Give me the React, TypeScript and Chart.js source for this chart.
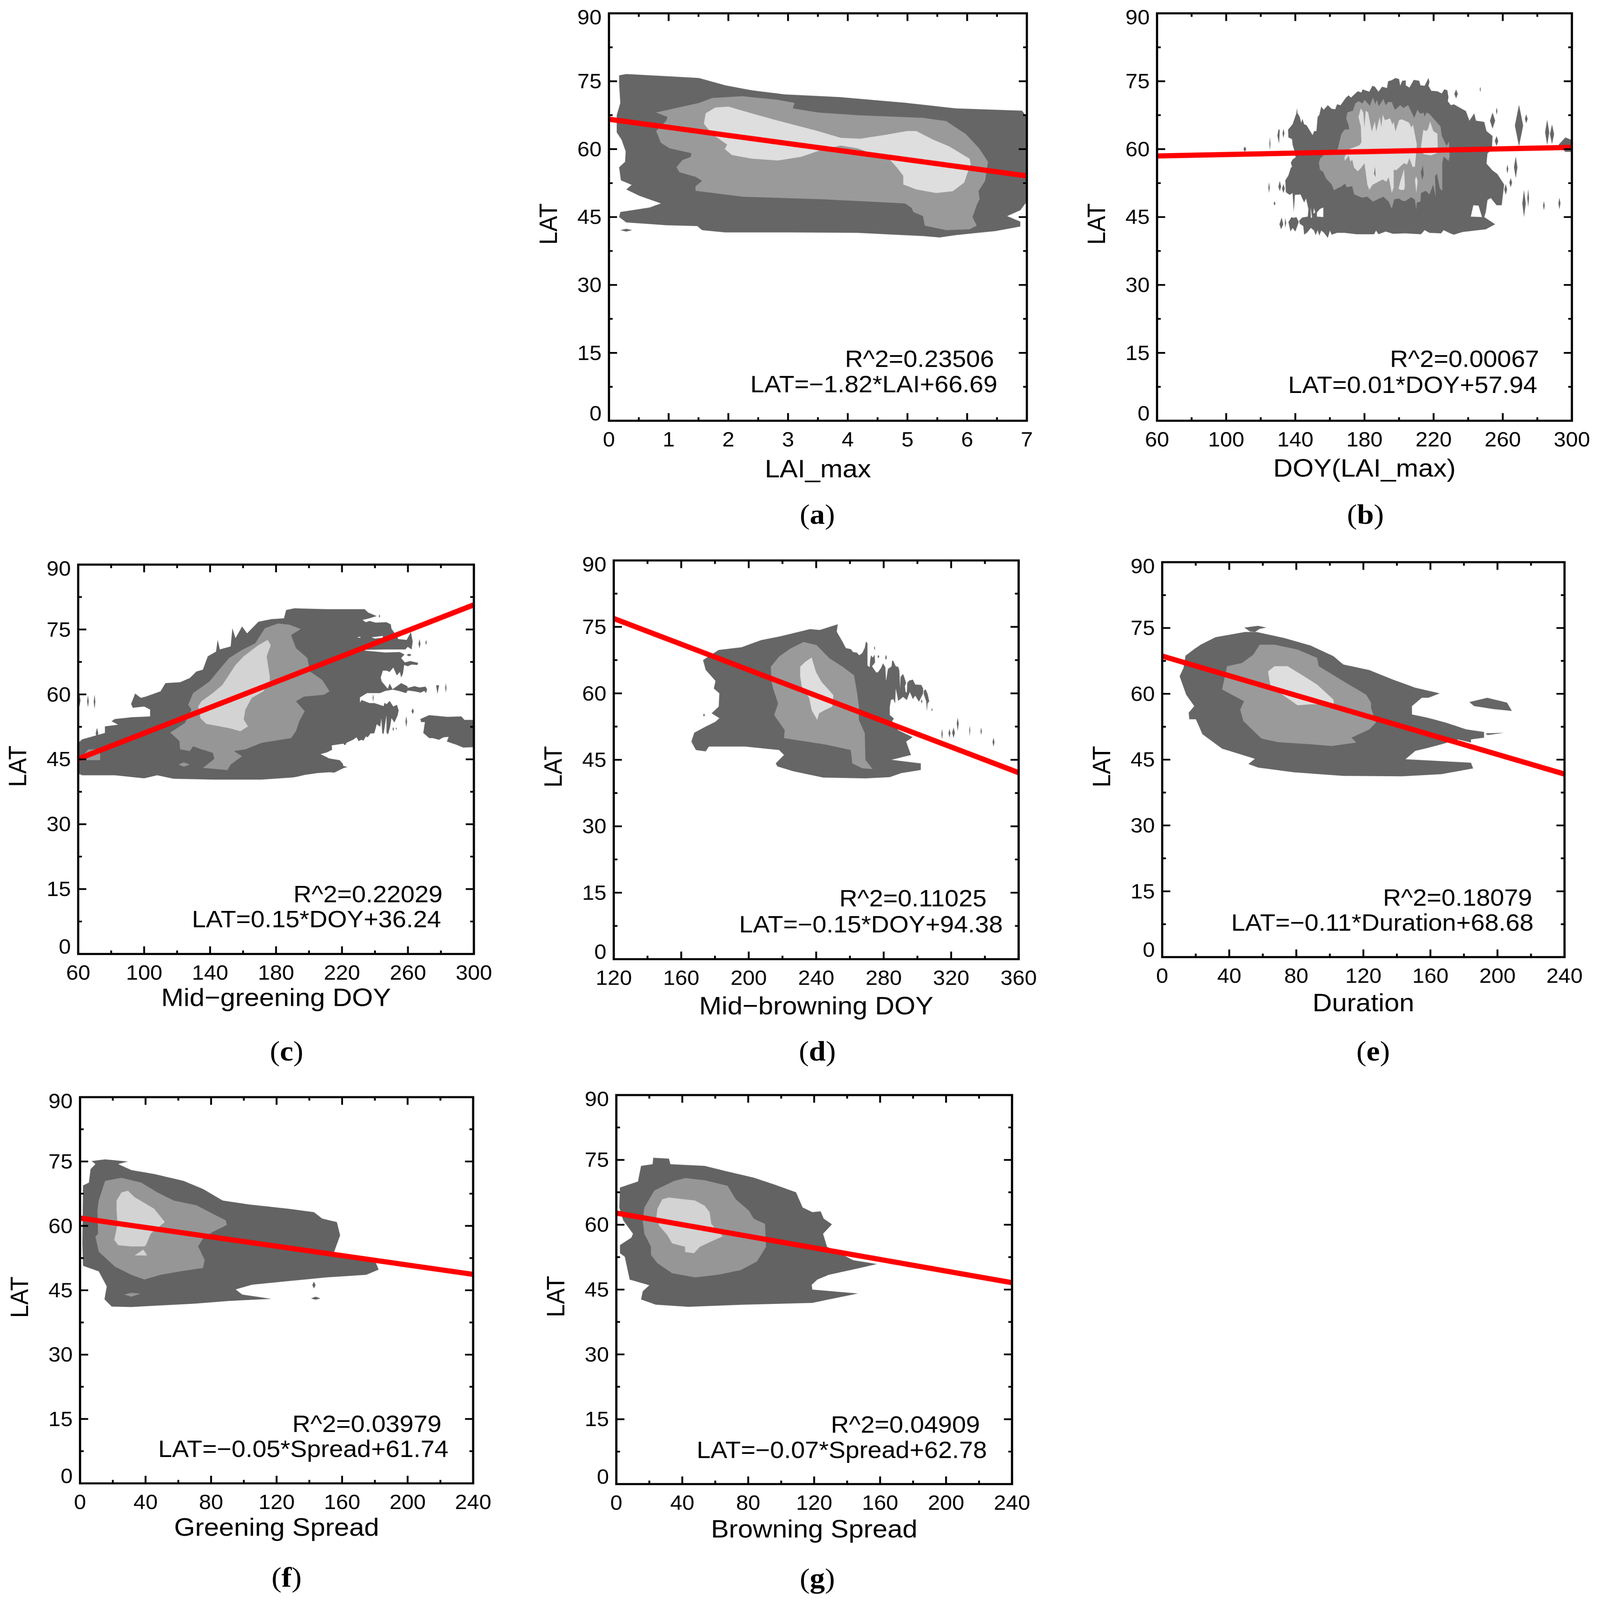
import React, { useEffect, useRef } from 'react';
import Chart from 'chart.js/auto';

type Pt = [number, number];

const latTicks = [0, 15, 30, 45, 60, 75, 90];
const laiTicks = [0, 1, 2, 3, 4, 5, 6, 7];
const greenDoyTicks = [60, 100, 140, 180, 220, 260, 300];
const brownDoyTicks = [120, 160, 200, 240, 280, 320, 360];
const dayTicks = [0, 40, 80, 120, 160, 200, 240];

// regression lines, read at the two frame edges
const aFit: Pt[] = [[0, 66.6], [7, 54.1]];
const bFit: Pt[] = [[60, 58.5], [300, 60.4]];
const cFit: Pt[] = [[60, 45.1], [300, 80.7]];
const dFit: Pt[] = [[120, 76.9], [360, 42.1]];
const eFit: Pt[] = [[0, 68.6], [240, 41.7]];
const fFit: Pt[] = [[0, 61.8], [240, 48.7]];
const gFit: Pt[] = [[0, 62.7], [240, 46.6]];

// contour outlines in data units (x, LAT)
const aDark: Pt[][] = [
    [[.17, 76.3], [.29, 76.6], [1.01, 76.1], [1.51, 75.7], [1.95, 74.1], [2.39, 73], [2.94, 72.1], [3.88, 71.5], [4.99, 70.2], [5.81, 69], [6.92, 68.5], [7, 67.1], [7, 48.4], [6.89, 46.5], [6.67, 45.2], [6.89, 44], [6.89, 42.9], [6.48, 41.9], [5.81, 41], [5.54, 40.5], [5.26, 40.8], [4.16, 41.5], [3.05, 41.6], [1.95, 41.6], [1.56, 42.1], [1.48, 43], [.96, 43.2], [.29, 43.8], [.17, 45], [.19, 46.1], [.68, 47.1], [.87, 48], [.51, 49.7], [.29, 51.1], [.38, 52.1], [.2, 53.1], [.17, 56], [.27, 57.2], [.28, 59.5], [.21, 62.1], [.13, 63.7], [.13, 67.5], [.19, 70.2], [.17, 74.4]],
    [[.19, 42.1], [.29, 42.4], [.39, 42.1], [.29, 41.8]],
];
const aMid: Pt[][] = [
    [[.79, 68.1], [.96, 68.6], [1.51, 70.2], [1.73, 71.3], [2.23, 71.7], [2.83, 70.9], [3.11, 70.2], [3.08, 69], [3.5, 68.1], [4.16, 67.5], [5.26, 66.9], [5.65, 66.2], [5.98, 63.3], [6.2, 60.2], [6.35, 57.2], [6.3, 53], [6.19, 50.7], [6.21, 49], [6.16, 47.6], [6.09, 45], [6.16, 43.1], [6.04, 42.3], [5.65, 42.1], [5.29, 43.1], [5.26, 45.2], [5.1, 46.1], [5.07, 47], [4.96, 48], [3.61, 48.9], [2.23, 49.5], [1.45, 50.8], [1.45, 51.8], [1.56, 53], [1.45, 53.9], [1.18, 54.9], [1.13, 56], [1.23, 57.6], [1.37, 58.3], [1.38, 59.1], [1.01, 60.2], [.87, 61.4], [.79, 64], [.96, 66.3], [.98, 67.1]],
];
const aLight: Pt[][] = [
    [[1.62, 67.9], [1.78, 69.2], [2, 69.4], [2.39, 67.9], [2.83, 66.3], [3.5, 64], [3.88, 62.5], [4.21, 62.3], [4.6, 63.1], [4.99, 64], [5.15, 64], [5.43, 62.1], [5.7, 60.6], [6.04, 57.9], [6.06, 56.8], [5.95, 52.6], [5.76, 50.7], [5.48, 50.3], [5.15, 51.1], [4.93, 52.2], [4.93, 54.1], [4.82, 56], [4.71, 57.6], [4.16, 60.2], [3.88, 60.8], [3.55, 59.8], [3.22, 58.3], [2.83, 57.5], [2.39, 57.9], [2.06, 58.7], [1.94, 60], [1.98, 61], [1.73, 63.3], [1.59, 65.6]],
];

const bDark: Pt[][] = [
    [[141, 69.1], [141.2, 68], [142.6, 67.1], [143.4, 65.8], [144.1, 66.7], [145.1, 65.5], [146.5, 65.3], [150, 63.1], [150.9, 64], [152.2, 64], [152.9, 67.1], [153.9, 67.6], [155, 69.4], [156.4, 68.7], [158.8, 69.7], [161, 68.9], [163.1, 68.8], [164.1, 69.9], [166.2, 69.7], [169.1, 71.3], [170.8, 71.9], [172.2, 71.4], [176.1, 72.8], [178.2, 72.5], [178.9, 73.2], [182.8, 72.7], [184.6, 74], [186, 73.8], [188.1, 72.7], [190.2, 73.8], [193, 73.5], [193.7, 75], [195.5, 75.2], [197.9, 75.7], [200, 75.5], [200.7, 74], [201.8, 75.1], [203.9, 75.2], [203.9, 74.1], [206, 73.6], [208.5, 75.3], [211.7, 75.1], [212.4, 74.1], [214.8, 74], [217, 75.7], [217.6, 74.8], [217, 74], [218.7, 72.9], [222.2, 72.8], [224.7, 72.3], [226.1, 73.2], [227.9, 73.05], [228.6, 71.5], [228.2, 70.6], [230, 69.7], [231.7, 69.9], [238.7, 68.4], [240.7, 66.3], [243.5, 67.9], [244.5, 66.3], [249.3, 66], [250.6, 64], [254.1, 62.9], [253.7, 59.8], [251.2, 59.1], [250.6, 56.8], [254.1, 55.3], [256.9, 54.5], [260.8, 52.2], [259.4, 47.6], [256.4, 47.6], [253.1, 49.2], [251.2, 48.8], [250.2, 46.1], [249.3, 45], [255.6, 43.4], [250.2, 42.3], [236.8, 41.7], [231.7, 41.1], [229.6, 41.4], [225.8, 42.1], [224.3, 41.4], [217.6, 41.5], [214.8, 42.1], [212.7, 41.2], [203.6, 41.4], [196.5, 41.3], [192.3, 41.8], [188.1, 41.2], [186.7, 42], [185.6, 41.2], [175.4, 41.2], [168.4, 41.5], [164.1, 41.5], [161, 41.1], [160, 42], [158.8, 40.4], [156.4, 41.6], [155, 42], [153.9, 40.9], [152.9, 42.1], [151.8, 41], [150.8, 42], [149, 42.6], [146.9, 41.6], [145.1, 41.1], [144.6, 43], [142.6, 43.5], [142.2, 44.2], [144, 44.9], [147.2, 45.1], [147.6, 46.7], [146.2, 49.1], [145.1, 48.2], [143, 50], [139.8, 49.9], [139.1, 46.1], [138.4, 50.3], [136.7, 49.9], [134.5, 50.5], [134.2, 53.1], [136, 54.2], [137.4, 55.9], [138.1, 56.1], [137.4, 57], [138.4, 57.7], [140.2, 58.2], [139.5, 59.6], [138.4, 61], [138.1, 62.2], [136, 62.6], [135.8, 64.3], [138.4, 65.5], [140.5, 67.8]],
    [[110, 60], [110.8, 60.6], [111.6, 60], [110.8, 59.4]],
    [[125, 61.2], [125.3, 62.7], [125.6, 61.2], [125.3, 59.7]],
    [[124.4, 51.5], [124.8, 52.7], [125.2, 51.5], [124.8, 50.3]],
    [[130.2, 51.7], [131, 53], [131.8, 51.7], [131, 50.7]],
    [[132.3, 51.3], [133.1, 52.3], [133.9, 51.3], [133.1, 50.3]],
    [[129.6, 63], [130.3, 64.4], [131, 64.2], [130.6, 61.2]],
    [[132.6, 63.5], [133.1, 64.5], [133.7, 63.5], [133, 62.5]],
    [[127.5, 48], [128, 48.5], [128.5, 48], [128, 47.5]],
    [[130.8, 43.4], [132.1, 44.9], [133, 43.4], [131.8, 42.3]],
    [[133.9, 43.7], [134.2, 44.8], [134.7, 43.7], [134.2, 42.6]],
    [[136, 43.9], [137.8, 45], [139, 44.8], [140.6, 45], [142, 43.9], [140, 41.8], [138.4, 42.6], [137.2, 41.8]],
    [[232, 72.2], [233, 73.2], [234, 72.2], [233, 71.2]],
    [[246.7, 73.2], [247, 73.8], [247.3, 73.2], [247, 72.6]],
    [[252.6, 66.3], [254.1, 68.1], [255.6, 66.3], [254.1, 64.5]],
    [[256.1, 68.4], [256.5, 69.2], [256.9, 68.4], [256.5, 67.6]],
    [[267, 65.2], [269.4, 69.8], [271.8, 65.2], [269.4, 60.6]],
    [[272.8, 66.7], [273.6, 67.7], [274.4, 66.7], [273.6, 65.7]],
    [[255.4, 61.8], [256.4, 62.9], [257.4, 61.8], [256.4, 60.7]],
    [[262.2, 55.6], [262.7, 56.6], [263.2, 55.6], [262.7, 54.6]],
    [[266.5, 56], [267.5, 58.4], [268.5, 56], [267.5, 53.6]],
    [[263.8, 52.6], [264.6, 53.6], [265.4, 52.6], [264.6, 51.6]],
    [[260.9, 51.1], [261.7, 52.3], [262.5, 51.1], [261.7, 49.9]],
    [[271.3, 48], [272.3, 51], [273.3, 48], [272.3, 45]],
    [[274.2, 49.2], [274.7, 51.2], [275.2, 49.2], [274.7, 47.2]],
    [[283.3, 47.5], [283.8, 48.5], [284.3, 47.5], [283.8, 46.5]],
    [[292.2, 48], [292.8, 49.3], [293.4, 48], [292.8, 46.7]],
    [[284.5, 63.7], [285.7, 66.5], [286.9, 63.7], [285.7, 60.9]],
    [[287.3, 63.3], [288.5, 65.5], [289.7, 63.3], [288.5, 61.1]],
    [[292.4, 61], [296.2, 62.6], [300, 62], [300, 59.4], [296.2, 59.4]],
];
const bCuts: Pt[][] = [
    [[152.5, 45.1], [156.2, 45], [156.2, 47.1], [154.3, 46.8], [152.5, 46]],
    [[148.8, 47.2], [149.7, 44.9], [149, 44.8]],
    [[150.8, 47], [151.5, 46], [150.4, 45.8]],
    [[241.5, 45.1], [248, 45], [246, 47.5], [243, 47.6]],
];
const bMid: Pt[][] = [
    [[164.5, 60], [166.6, 63.3], [168.4, 64.3], [171.2, 64.4], [170.8, 65.3], [169.4, 66.8], [170.1, 68.1], [173.3, 68.5], [174.7, 70.1], [176.5, 70.6], [178.9, 70.1], [180, 70.9], [183.1, 69.6], [184.9, 71.4], [186.3, 69.9], [187, 70.9], [188.4, 69.5], [190.9, 71.1], [192.3, 69.7], [193.7, 70.4], [195.8, 70.4], [197.6, 68.7], [200.7, 69.7], [202.5, 69.1], [205.3, 69.7], [208.8, 66.9], [210.6, 68.7], [212.4, 67.8], [214.1, 68.1], [214.8, 67.2], [215.9, 68.1], [217.6, 67.8], [224, 65], [224.7, 63], [227.5, 60.7], [228.9, 61.7], [229.3, 58.4], [228.6, 57.4], [225.8, 58.4], [225, 56.9], [225, 50.8], [223.6, 51.3], [221.9, 54.6], [220.8, 54], [221.2, 49.3], [219.8, 52.2], [217.6, 50], [215.5, 50.8], [212.7, 50.3], [212.4, 48.4], [210.3, 48.2], [209.9, 46.6], [209.2, 48.8], [207.1, 49.4], [203.6, 48.5], [201.8, 48.6], [200, 49.1], [197.2, 48.9], [195.8, 46.8], [194, 48.4], [190.9, 49.5], [188.1, 49], [184.9, 48.4], [181.7, 49.5], [178.6, 49.3], [174, 50], [172.9, 51.8], [169.8, 51.6], [168.7, 52.4], [166.9, 51.8], [164.1, 51.3], [162.4, 50.9], [161, 52.2], [157.8, 53.5], [156, 55], [154.3, 55.4], [153.6, 56.9], [154.3, 57.9], [156.4, 58.7], [164.5, 59.4]],
];
const bLight: Pt[][] = [
    [[177.9, 69], [179.3, 68.1], [180, 64.8], [180.7, 68.5], [182.1, 68.1], [184.2, 63.9], [186, 66.1], [186.8, 63.9], [188.8, 67.1], [189.8, 64.9], [190.5, 67.6], [191.9, 66.4], [194.8, 66.8], [196.2, 65.4], [196.9, 66.1], [197.9, 63.9], [200, 66.4], [201.5, 66.6], [205.7, 65.9], [207.1, 64.8], [208.1, 65.4], [210.3, 61], [209.2, 56.1], [207.8, 56.1], [206, 58], [204.6, 56.6], [202.9, 56.9], [201.1, 56.3], [198.6, 55.4], [196.9, 55.4], [196.9, 51.5], [195.8, 50.3], [194, 53.8], [192.6, 52.8], [190.5, 53.3], [184.6, 52.1], [182.8, 51], [181.7, 52.1], [180, 56.9], [177.9, 55.8], [176.1, 55.1], [174, 55.9], [172.9, 57.7], [171.9, 57.2], [170.8, 58.6], [168.7, 57.4], [168.4, 58.2], [171.2, 60], [174.7, 60.5], [177.2, 60.9], [178.2, 61.5], [177.9, 65], [176.5, 67.1]],
    [[214.1, 64.3], [215.5, 64], [216.6, 64.3], [218, 66.1], [219.8, 64], [222.2, 63.4], [222.4, 60.5], [221.9, 59.1], [218.4, 58.6], [214.1, 58.9], [212.7, 60.5], [213.4, 62.5]],
    [[199.7, 51.3], [200.7, 52.8], [202.9, 55.6], [203.4, 51.8], [202.9, 51], [200.7, 51]],
    [[209.2, 53.1], [209.9, 54], [210.8, 53], [210, 50.3]],
];
const bOver: Pt[][] = [
    [[212.6, 54.9], [213.8, 56.4], [214.3, 54.4], [213.4, 53.2]],
    [[185.6, 54.6], [186.1, 56.1], [186.4, 53.8]],
];

const cDark: Pt[][] = [
    [[60, 48.8], [62.4, 49.6], [76.2, 51.1], [76.2, 52.6], [84.2, 53], [80.2, 53.8], [82.2, 54.3], [92.1, 54.7], [103.6, 54.9], [103.6, 56.5], [100, 57.2], [93.1, 56.9], [92.1, 57.8], [94.5, 60.2], [98, 59.2], [101, 59.5], [109.9, 60.7], [112.9, 62.6], [121.8, 62.8], [127.7, 63.8], [131.7, 65.3], [135.6, 65.7], [138.6, 68.8], [143.6, 69.9], [144.6, 72.6], [145.9, 70.4], [152.5, 71.1], [153.5, 75.3], [155.4, 73], [159.4, 75.7], [162.4, 74.1], [169.3, 76.8], [177.2, 77.4], [184.8, 77.6], [186.1, 79.5], [191.1, 79.9], [210.9, 79.7], [233.7, 79.7], [236, 78.9], [241.1, 78.1], [236.7, 77.6], [232.4, 77.2], [234.5, 76.7], [236.7, 77], [240.4, 76.6], [247, 76.7], [249.6, 76.2], [250, 75.2], [253.7, 73.2], [254, 72.8], [259.2, 72.6], [261.8, 74.4], [262.9, 72.2], [262.2, 70.4], [259.9, 71], [258.5, 70.4], [246.3, 70.4], [233, 70.3], [234.5, 70.1], [246.3, 69.7], [255.1, 69.8], [257.9, 69.2], [255.9, 68.4], [258.1, 67.4], [261.4, 67.7], [266.2, 67.3], [265.8, 66.8], [262.2, 66.9], [259.9, 66.5], [257.7, 66.8], [257, 64.8], [255.9, 63.9], [255.1, 65.2], [253.3, 64.4], [251.1, 66.2], [248.9, 65.2], [247, 65.5], [244.8, 65.5], [243.5, 63.9], [244.1, 63], [247.8, 61.3], [248.9, 62.5], [250.7, 61.2], [253.7, 62], [255.9, 62.6], [259.6, 61.9], [259.9, 61.5], [264, 61.9], [267, 61.6], [270.6, 61.8], [271.6, 61.2], [271, 60.3], [269.9, 60.8], [267.7, 60.4], [264, 60.7], [259.9, 60.9], [258.8, 60.3], [254.4, 60.8], [250.7, 61.1], [246.3, 60.8], [243, 60.3], [235.2, 60.3], [230.9, 59.3], [230.9, 58.1], [231.9, 58.7], [236.7, 58], [239.6, 58], [245.2, 57.3], [245.9, 58.1], [247, 57.7], [248.9, 58.5], [251.1, 57.2], [253.3, 57.6], [254.4, 56.3], [253.7, 55.1], [251.8, 53.5], [250, 54.5], [249.2, 52.5], [247.9, 50.7], [247, 51.2], [247, 55.2], [245.2, 50.8], [244.4, 51.1], [243.9, 54.5], [243.2, 52.5], [241.1, 53.1], [239.6, 51], [237.4, 51], [235.6, 50.1], [234.5, 50.3], [233, 49.3], [231.9, 49.5], [230, 49.2], [228.9, 50.1], [226.7, 49.5], [222.7, 48.8], [221.9, 48.2], [220.8, 48.6], [213.8, 48.2], [214, 47.2], [210.9, 46.6], [207, 46.2], [212.3, 45.2], [218.6, 44.8], [220.5, 44], [220.8, 43.5], [223.3, 43.2], [221.2, 43], [215.3, 41.9], [212.3, 42], [205, 41.8], [197.6, 41.4], [193.2, 41], [190.2, 40.8], [171.3, 40.3], [141.6, 40.3], [117.8, 40.5], [107.9, 41.3], [100, 40.6], [82.2, 41.3], [62.4, 41.3], [60, 41.7]],
    [[267.5, 54.3], [272.9, 55.2], [283.9, 54.8], [292.4, 54.9], [294.3, 54.1], [300, 54.1], [300, 47.8], [293.5, 47.7], [289.8, 48.3], [283.6, 49.1], [284.7, 50.2], [281.7, 50.1], [278.8, 49.5], [275.1, 49.9], [272.9, 49.9], [269.3, 51.1], [270.3, 53.6], [268, 53.6]],
    [[60.2, 58.6], [60.8, 60.2], [61.4, 58.6], [60.8, 57.2]],
    [[65.4, 58.4], [65.9, 59.8], [66.4, 58.4], [65.9, 57]],
    [[69.4, 58.3], [69.9, 60], [70.4, 58.3], [69.9, 56.6]],
    [[70.6, 51], [71.4, 52.3], [72.2, 51], [71.4, 49.8]],
    [[242.3, 78.1], [242.7, 78.5], [243.1, 78.1], [242.7, 77.7]],
    [[259.2, 69.1], [260.7, 69.4], [262.2, 69.1], [260.7, 68.8]],
    [[266.4, 71.7], [267, 72.8], [267.6, 71.7], [267, 70.6]],
    [[270.6, 72], [271, 72.6], [271.4, 72], [271, 71.4]],
    [[238.6, 59.2], [238.9, 60.1], [239.2, 59.2], [238.9, 58.2]],
    [[277.1, 62.1], [278.9, 62.1], [277.9, 60.1]],
    [[282.6, 61.5], [283, 62.6], [283.4, 61.5], [283, 60.4]],
    [[262.2, 56.1], [262.9, 56.8], [263.6, 56.1], [262.9, 55.4]],
    [[258.5, 53.7], [259, 55], [259.5, 53.7], [259, 52.4]],
    [[250.7, 52], [251.1, 52.5], [251.5, 52], [251.1, 51.5]],
    [[252.6, 52.1], [252.9, 52.4], [253.2, 52.1], [252.9, 51.8]],
];
const cCuts: Pt[][] = [
    [[229.7, 73.3], [231.2, 73.3], [231.2, 73.1], [229.7, 73.1]],
    [[237.8, 73.2], [244.8, 73.5], [244.8, 73.1], [240, 72.9]],
];
const cMid: Pt[][] = [
    [[115.8, 51.2], [124.8, 53.4], [128.7, 56.5], [126.7, 57.6], [129.7, 60.3], [139.6, 63], [145.5, 65.7], [151.5, 68.4], [159.4, 70.3], [167.3, 71.8], [173.3, 75.3], [181.2, 76.4], [188.1, 76.1], [195, 75.1], [189.1, 73.7], [192.1, 70.7], [199, 68.4], [200.6, 65.3], [207.9, 63.4], [212.5, 60.7], [208.9, 59.9], [197, 59.5], [192.1, 58.4], [197.4, 56.1], [194.1, 53.8], [192.1, 51.5], [189.1, 49.9], [171.3, 48.8], [161.4, 47.3], [154.5, 46.9], [159.4, 45.7], [152.5, 43.8], [150.5, 42.5], [135.6, 43], [142.6, 45.1], [141.6, 46.5], [134.7, 47.3], [129.7, 48], [127.7, 46.9], [121.8, 47.3], [121.4, 49.2]],
    [[62, 45.7], [66.3, 47.3], [73.3, 47.3], [73.3, 44.8], [62.4, 44.8]],
    [[120.8, 43.8], [124, 44.3], [127.7, 43.8], [124, 43.3]],
];
const cLight: Pt[][] = [
    [[132.7, 57.2], [134.7, 58.4], [141.6, 60.3], [147.5, 62.2], [155.4, 66.8], [160.4, 68.8], [169.3, 71.4], [174.9, 72.6], [176.8, 71.4], [174.3, 68.8], [176.2, 64.1], [176.2, 63], [172.3, 60.7], [165.3, 59.2], [161.4, 56.5], [160.4, 54.2], [163, 52.6], [158.4, 51.5], [151.5, 52.2], [137.6, 53.2], [134.1, 54.5], [133.7, 55.7]],
];

const dDark: Pt[][] = [
    [[167.7, 51.1], [174.5, 52.5], [180.3, 53.6], [182.6, 54.4], [178, 55.5], [182.2, 57], [182.6, 60], [179.3, 61.1], [180.3, 62.8], [174.5, 65.3], [172.9, 67.5], [182.2, 69.8], [195.7, 70.4], [207.3, 72], [218.9, 72.9], [236.3, 74.5], [242.1, 74.3], [252.8, 75.6], [252.2, 73.9], [255.7, 71.6], [257.6, 70.2], [260.5, 70], [261.9, 69.3], [264.1, 69.2], [265.5, 68.6], [267.3, 69.1], [268.8, 70.3], [269.5, 71.7], [270.4, 71.3], [270.4, 66.3], [271.7, 65.9], [272, 67.6], [272.5, 68.6], [273.5, 68.1], [274.6, 68.7], [274.9, 67], [273.1, 66.1], [275.6, 64.7], [276.7, 64.8], [278.5, 65.8], [279.6, 66.8], [281, 65.9], [281.4, 62.8], [282.5, 65.5], [284.7, 66.1], [285, 67.4], [285.7, 67.3], [287.2, 66.1], [288.6, 66], [289.3, 65.2], [289.7, 61.1], [290, 63.7], [291.5, 64.4], [292.6, 63.2], [293.3, 62.4], [292.6, 61.6], [293, 60.3], [293.7, 60.2], [294, 62.4], [295.1, 62.9], [297.3, 63.1], [298.7, 62], [302.3, 61.9], [303.4, 61.1], [303.4, 60], [300.9, 58.1], [298.7, 59.5], [297.3, 58.7], [295.5, 60.3], [293.7, 58.5], [291.5, 59.2], [288.6, 58.3], [287.5, 60.5], [286.5, 62.4], [287.2, 61.3], [286.8, 57.7], [285.7, 58.7], [284.3, 58.5], [283.6, 56.9], [283.6, 55.1], [286.1, 54.3], [285, 53.8], [288.5, 51.7], [297.2, 50.1], [293.3, 49.1], [296.2, 46.1], [284.6, 45], [302, 44.2], [302, 42.7], [290.4, 42], [283.7, 41.1], [269.2, 40.8], [244.1, 41], [226.7, 42.4], [217, 43.5], [216, 44.2], [220.9, 46.1], [218, 47.2], [197.7, 48], [188, 48], [176.4, 48], [174.5, 46.9], [168.7, 47.2], [166, 49.1]],
    [[303.8, 60.6], [304.9, 60.9], [306.1, 59.8], [307, 58.2], [306, 57.7], [305.6, 55.9], [305.2, 58.2], [303.8, 59.8]],
    [[274.3, 70.2], [274.6, 70.7], [274.9, 70.2], [274.6, 69.7]],
    [[276.4, 68.3], [276.9, 68.7], [277.4, 68.3], [276.9, 67.9]],
    [[280.9, 68.1], [281.4, 68.7], [281.9, 68.1], [281.4, 67.5]],
    [[302.1, 58.2], [302.5, 58.7], [302.9, 58.2], [302.5, 57.7]],
    [[308.3, 56.3], [308.6, 56.7], [308.9, 56.3], [308.6, 55.9]],
    [[314.2, 50.8], [314.6, 52], [315, 50.8], [314.6, 49.6]],
    [[318.4, 51], [319, 52], [319.6, 51], [319, 50]],
    [[320.6, 51.1], [321.4, 52.3], [322.2, 51.1], [321.4, 49.9]],
    [[323.3, 53.2], [323.9, 54.5], [324.5, 53.2], [323.9, 51.5]],
    [[330.7, 51.7], [331, 52.7], [331.3, 51.7], [331, 50.3]],
    [[344.5, 49], [345.1, 50], [345.7, 49], [345.1, 48]],
    [[337.4, 51.4], [337.8, 52.3], [338.2, 51.4], [337.8, 50.6]],
    [[173, 55.1], [173.5, 55.5], [174, 55.1], [173.5, 54.7]],
];
const dMid: Pt[][] = [
    [[213.1, 66], [218, 68.3], [224.7, 70.1], [232.5, 71.6], [240.2, 70.9], [247.9, 67.9], [255.7, 66], [262.4, 64.1], [264.3, 60], [265.3, 57], [265.3, 54], [268.8, 51], [269.2, 45], [273.4, 42.9], [267.2, 43.1], [261.4, 44.2], [260.5, 47.2], [246, 48.4], [234.4, 49.1], [220.9, 49.9], [221.3, 51.7], [215.1, 55.1], [217.4, 57.7], [214.7, 60.8], [213.5, 62.6]],
];
const dLight: Pt[][] = [
    [[230.5, 66], [233.4, 67.1], [237.3, 68.1], [239.8, 64.9], [243.1, 62.6], [250.2, 59.6], [249.5, 57], [245, 56.2], [241.7, 55.5], [240.6, 54], [237.3, 56.2], [235.9, 58.9], [231.5, 61.5], [230.5, 63.8]],
];

const eDark: Pt[][] = [
    [[13.9, 68.7], [19.1, 70.2], [23, 71.2], [31.8, 72.9], [49.4, 74.1], [56.3, 74.1], [72.9, 72.7], [88.5, 71], [102.1, 68.6], [108, 66.7], [123.6, 65.4], [137.3, 63.3], [151, 61.4], [165.6, 60.1], [158.8, 59.1], [154.9, 59.1], [149, 57.2], [149, 55.3], [158.8, 54.5], [169.5, 53.4], [181.3, 51.9], [192, 51.3], [192, 50], [184.2, 49.6], [184.2, 48.9], [176.4, 49.6], [166.6, 48.5], [158.8, 47.7], [151, 47], [145.1, 45.1], [184.2, 44.3], [185.5, 43], [166.6, 41.7], [143.2, 41.2], [108, 41.3], [78.7, 42.1], [57.2, 43.2], [51.4, 44], [55.3, 45.2], [35.7, 47.5], [24, 50.8], [20.1, 54.2], [16.2, 54.2], [15.8, 55.7], [19.1, 57.2], [14.3, 59.8], [10.4, 64], [12.7, 65.9]],
    [[49, 75.1], [57.2, 75.5], [62.1, 75.1], [58.2, 74.8], [55.3, 74.1], [52.3, 74.2]],
    [[193, 51], [203.8, 51.1], [194, 50.6]],
    [[183.2, 58.1], [193.9, 59.1], [205.7, 58], [208.6, 56.1], [197.8, 56.5], [186.1, 57.2]],
];
const eMid: Pt[][] = [
    [[35.7, 61], [38.7, 66.3], [47.5, 67], [54.3, 68.9], [58.2, 71.2], [67, 71.2], [80.7, 70.1], [92.4, 68.2], [93.4, 66.3], [108, 62.9], [121.7, 59.8], [124.6, 58], [124.6, 56.8], [127.5, 53.4], [123.6, 51.9], [112.9, 50], [115.8, 48.9], [101.2, 48.1], [88.5, 48.5], [68.9, 49], [59.2, 49.8], [48.4, 53.8], [46.5, 56.4], [48.8, 58.3]],
];
const eLight: Pt[][] = [
    [[63.1, 65.1], [67, 66.3], [74.8, 66.3], [84.6, 64], [92.4, 62.1], [102.1, 58.7], [102.5, 57.6], [88.5, 57.6], [80.7, 57.4], [72.9, 59.5], [64.6, 61.7]],
];

const fDark: Pt[][] = [
    [[7, 75.1], [15.3, 75.5], [29.3, 75], [23.3, 74.4], [31.3, 73], [45.2, 72.1], [63.1, 70.5], [75.1, 68.6], [87.1, 65.9], [103, 65], [126.9, 64], [142.8, 63.2], [147.8, 61.7], [156.8, 60.9], [158.8, 57.8], [154.8, 53.6], [165.7, 52.9], [180.7, 51.3], [182.3, 49.8], [174.7, 48.6], [150.8, 48], [120.9, 46.9], [105, 46.3], [95, 45.2], [99, 44], [116.9, 43], [91, 42.5], [71.1, 41.9], [31.3, 41.1], [19.3, 41.2], [14.9, 42.9], [16.3, 45.9], [11.4, 49.4], [1.8, 50.7], [1.4, 55.9], [1.8, 69.4], [5.4, 70.1], [6.4, 73.2], [9.4, 74.4]],
    [[141.8, 46.2], [142.8, 47], [143.8, 46.2], [142.8, 45.4]],
    [[141, 43.1], [143.8, 43.5], [146.8, 43.1], [143.8, 42.8]],
];
const fMid: Pt[][] = [
    [[11.4, 65.9], [15.3, 70.5], [25.3, 71.2], [37.3, 70.1], [47.2, 67.8], [57.2, 65.9], [71.1, 64.8], [81.1, 62.8], [89, 61.3], [89.6, 60.2], [81.1, 58.6], [75.1, 57.1], [72.1, 55.2], [76.1, 52.1], [75.1, 50.2], [61.2, 49.4], [49.2, 48.6], [39.2, 47.5], [31.3, 48.6], [21.3, 50.5], [11.4, 54], [9.4, 57.5], [11, 58.2], [10.6, 63.6]],
    [[26.9, 44], [31.3, 44.4], [36.9, 44.2], [31.3, 43.5]],
];
const fLight: Pt[][] = [
    [[22.3, 65.9], [25.3, 67.8], [29.3, 68.2], [33.3, 66.7], [45.2, 64], [51.8, 60.9], [43.2, 58.2], [40.2, 55.5], [39.2, 55.2], [31.3, 55.2], [23.3, 55.5], [20.9, 56.7], [22.9, 60.5], [22.3, 63.6]],
    [[33.3, 53.1], [38.6, 54.5], [41, 53.1]],
];

const gDark: Pt[][] = [
    [[2.2, 68.6], [13.1, 70], [15, 73.6], [22, 74], [22.4, 75.5], [31.9, 75.3], [32.8, 74], [53.6, 73.6], [67.5, 72.3], [83.3, 70.9], [95.2, 69.4], [109, 67.5], [113, 64], [118.9, 62.9], [123.9, 63.1], [125.8, 61.4], [130.8, 60.1], [125.4, 57.9], [127.8, 54.9], [143.6, 51.8], [158.1, 50.9], [146.6, 49.9], [128.8, 48.4], [121.9, 47.3], [118.5, 46.1], [118.9, 45], [146.6, 44.1], [128.8, 42.7], [118.9, 41.9], [77.4, 41.5], [43.7, 41], [23.9, 41.5], [15, 42.7], [16, 44.6], [20, 46], [8.1, 47.3], [5.1, 52.6], [2.2, 53.4], [2.2, 55.3], [9.1, 57], [10.1, 57.9], [4.2, 61], [1.8, 64]],
];
const gMid: Pt[][] = [
    [[17, 64], [23, 67.9], [34.8, 70.1], [41.7, 70.8], [53.6, 70.3], [67.5, 69], [72.4, 65.9], [80.3, 63.3], [83.3, 61.4], [90.2, 60.2], [90.8, 54.9], [85.3, 51.5], [75.4, 49.5], [61.5, 48.4], [47.7, 47.8], [33.8, 48.8], [24.9, 51.1], [21, 53], [21, 54.9], [17, 57.9], [16, 61]],
];
const gLight: Pt[][] = [
    [[24.9, 63.7], [27.9, 65.9], [31.9, 66.3], [47.7, 65.6], [53.6, 64.4], [56.6, 62.9], [57.6, 60.2], [64.5, 57.3], [58.6, 56.3], [50.7, 54.9], [47.1, 53.4], [41.7, 53.7], [41.7, 54.9], [33.8, 55.7], [30.9, 57.6], [25.9, 59.8], [24.3, 61.8]],
];

const plainGreys = ['#666666', '#9a9a9a', '#dedede'];
const deepGreys = ['#636363', '#969696', '#d3d3d3'];
const font = 'Liberation Sans';

const pageWidth = 4338;
const pageHeight = 4609;

interface Panel {
    tag: string;
    left: number; right: number; top: number; bottom: number;
    xTicks: number[];
    xTitle: string;
    note: [string, string];
    noteRight: [number, number];
    noteY: [number, number];
    fit: Pt[];
    dark: Pt[][]; mid: Pt[][]; light: Pt[][];
    cuts?: Pt[][]; // white gaps inside the dark band
    over?: Pt[][]; // dark specks on top of the lighter bands
    greys: string[];
    titleGap: number;
    capX: number; capY: number;
}

const panels: Panel[] = [
    { tag: 'a', left: 1651, right: 2784, top: 33, bottom: 1212, xTicks: laiTicks, xTitle: 'LAI_max', note: ['R^2=0.23506', 'LAT=−1.82*LAI+66.69'], noteRight: [89, 80], noteY: [174, 101], fit: aFit, dark: aDark, mid: aMid, light: aLight, greys: plainGreys, titleGap: 143, capX: 2216, capY: 1482 },
    { tag: 'b', left: 3137, right: 4273, top: 33, bottom: 1212, xTicks: greenDoyTicks, xTitle: 'DOY(LAI_max)', note: ['R^2=0.00067', 'LAT=0.01*DOY+57.94'], noteRight: [89, 94], noteY: [174, 99], fit: bFit, dark: bDark, mid: bMid, light: bLight, cuts: bCuts, over: bOver, greys: plainGreys, titleGap: 141, capX: 3702, capY: 1482 },
    { tag: 'c', left: 212, right: 1296, top: 1621, bottom: 2748, xTicks: greenDoyTicks, xTitle: 'Mid−greening DOY', note: ['R^2=0.22029', 'LAT=0.15*DOY+36.24'], noteRight: [85, 89], noteY: [168, 96], fit: cFit, dark: cDark, mid: cMid, light: cLight, cuts: cCuts, greys: deepGreys, titleGap: 130, capX: 777, capY: 3028 },
    { tag: 'd', left: 1664, right: 2773, top: 1609, bottom: 2763, xTicks: brownDoyTicks, xTitle: 'Mid−browning DOY', note: ['R^2=0.11025', 'LAT=−0.15*DOY+94.38'], noteRight: [87, 43], noteY: [171, 96], fit: dFit, dark: dDark, mid: dMid, light: dLight, greys: plainGreys, titleGap: 139, capX: 2216, capY: 3028 },
    { tag: 'e', left: 3151, right: 4253, top: 1614, bottom: 2757, xTicks: dayTicks, xTitle: 'Duration', note: ['R^2=0.18079', 'LAT=−0.11*Duration+68.68'], noteRight: [88, 84], noteY: [167, 95], fit: eFit, dark: eDark, mid: eMid, light: eLight, greys: plainGreys, titleGap: 136, capX: 3723, capY: 3028 },
    { tag: 'f', left: 217, right: 1294, top: 3155, bottom: 4273, xTicks: dayTicks, xTitle: 'Greening Spread', note: ['R^2=0.03979', 'LAT=−0.05*Spread+61.74'], noteRight: [86, 67], noteY: [167, 95], fit: fFit, dark: fDark, mid: fMid, light: fLight, greys: deepGreys, titleGap: 131, capX: 777, capY: 4544 },
    { tag: 'g', left: 1671, right: 2755, top: 3149, bottom: 4275, xTicks: dayTicks, xTitle: 'Browning Spread', note: ['R^2=0.04909', 'LAT=−0.07*Spread+62.78'], noteRight: [87, 68], noteY: [167, 94], fit: gFit, dark: gDark, mid: gMid, light: gLight, greys: deepGreys, titleGap: 134, capX: 2216, capY: 4547 },
];

const padLeft = 240;
const padRight = 60;
const padTop = 50;
const padBottom = 200;

const toXY = (poly: Pt[]) => poly.map(([x, y]) => ({ x, y }));

const shapes = (polys: Pt[][], color: string) =>
    polys.map((poly) => ({
        data: toXY(poly),
        showLine: true,
        fill: 'shape',
        backgroundColor: color,
        borderWidth: 0,
        pointRadius: 0,
    }));

// IDL style frame: inward ticks on all four sides, half-step minors without labels
const framePlugin = {
    id: 'frame',
    afterDatasetsDraw(chart: any) {
        const { ctx, chartArea: a, scales } = chart;
        ctx.save();
        ctx.strokeStyle = '#000';
        ctx.lineWidth = 6;
        ctx.strokeRect(a.left, a.top, a.right - a.left, a.bottom - a.top);
        ctx.lineWidth = 5;
        const marks = (vals: number[]) => {
            const out: [number, number][] = [];
            vals.forEach((v, i) => {
                out.push([v, 22]);
                if (i < vals.length - 1) out.push([(v + vals[i + 1]) / 2, 10]);
            });
            return out;
        };
        ctx.beginPath();
        marks(scales.x.ticks.map((t: any) => t.value)).forEach(([v, len]) => {
            const px = scales.x.getPixelForValue(v);
            ctx.moveTo(px, a.bottom);
            ctx.lineTo(px, a.bottom - len);
            ctx.moveTo(px, a.top);
            ctx.lineTo(px, a.top + len);
        });
        marks(scales.y.ticks.map((t: any) => t.value)).forEach(([v, len]) => {
            const py = scales.y.getPixelForValue(v);
            ctx.moveTo(a.left, py);
            ctx.lineTo(a.left + len, py);
            ctx.moveTo(a.right, py);
            ctx.lineTo(a.right - len, py);
        });
        ctx.stroke();
        ctx.restore();
    },
};

// the first and last LAT labels sit inside the frame ends
const latLabelPlugin = {
    id: 'latLabels',
    beforeDraw(chart: any) {
        const y = chart.scales.y;
        const items = y.getLabelItems();
        items.forEach((item: any, i: number) => {
            const shift = i === 0 ? -17 : i === items.length - 1 ? 15 : 4;
            item.options.translation[1] = y.getPixelForTick(i) + shift;
        });
    },
};

const PanelChart: React.FC<{ panel: Panel }> = ({ panel }) => {
    const canvasRef = useRef<HTMLCanvasElement | null>(null);
    const width = panel.right - panel.left + padLeft + padRight;
    const height = panel.bottom - panel.top + padTop + padBottom;

    useEffect(() => {
        if (!canvasRef.current) return;
        const notePlugin = {
            id: 'notes',
            afterDatasetsDraw(chart: any) {
                const { ctx, chartArea: a } = chart;
                ctx.save();
                ctx.fillStyle = '#000';
                ctx.textBaseline = 'middle';
                ctx.textAlign = 'right';
                ctx.font = `68px "${font}"`;
                panel.note.forEach((line, i) => {
                    ctx.fillText(line, a.right - panel.noteRight[i], a.bottom - panel.noteY[i]);
                });
                ctx.translate(a.left - 160, (a.top + a.bottom) / 2 + 20);
                ctx.rotate(-Math.PI / 2);
                ctx.textAlign = 'center';
                ctx.fillText('LAT', 0, 0);
                ctx.restore();
            },
        };
        // Chart.js paints the first dataset last, so the list runs top layer first
        const chart = new Chart(canvasRef.current, {
            type: 'scatter',
            data: {
                datasets: [
                    {
                        data: toXY(panel.fit),
                        showLine: true,
                        borderColor: '#ff0000',
                        borderWidth: 15,
                        pointRadius: 0,
                    },
                    ...shapes(panel.over ?? [], panel.greys[0]),
                    ...shapes(panel.light, panel.greys[2]),
                    ...shapes(panel.mid, panel.greys[1]),
                    ...shapes(panel.cuts ?? [], '#ffffff'),
                    ...shapes(panel.dark, panel.greys[0]),
                ],
            } as any,
            options: {
                animation: false,
                responsive: false,
                devicePixelRatio: 1,
                events: [],
                layout: { padding: { top: padTop, right: padRight, left: 0, bottom: 0 } },
                plugins: { legend: { display: false }, tooltip: { enabled: false } },
                scales: {
                    x: {
                        type: 'linear',
                        min: panel.xTicks[0],
                        max: panel.xTicks[panel.xTicks.length - 1],
                        grid: { display: false, drawTicks: false },
                        border: { display: false },
                        afterBuildTicks: (s: any) => {
                            s.ticks = panel.xTicks.map((value) => ({ value }));
                        },
                        afterFit: (s: any) => {
                            s.height = padBottom;
                        },
                        ticks: {
                            autoSkip: false,
                            maxRotation: 0,
                            padding: 22,
                            color: '#000',
                            font: { family: font, size: 59 },
                            callback: (v: any) => String(v),
                        },
                        title: {
                            display: true,
                            text: panel.xTitle,
                            color: '#000',
                            font: { family: font, size: 73 },
                            padding: { top: 0, bottom: padBottom - 43.8 - panel.titleGap },
                        },
                    },
                    y: {
                        type: 'linear',
                        min: latTicks[0],
                        max: latTicks[latTicks.length - 1],
                        grid: { display: false, drawTicks: false },
                        border: { display: false },
                        afterBuildTicks: (s: any) => {
                            s.ticks = latTicks.map((value) => ({ value }));
                        },
                        afterFit: (s: any) => {
                            s.width = padLeft;
                        },
                        ticks: {
                            autoSkip: false,
                            padding: 20,
                            color: '#000',
                            font: { family: font, size: 59 },
                            callback: (v: any) => String(v),
                        },
                    },
                },
            } as any,
            plugins: [latLabelPlugin, framePlugin, notePlugin],
        });
        return () => chart.destroy();
    }, [panel]);

    return (
        <canvas
            ref={canvasRef}
            width={width}
            height={height}
            style={{ position: 'absolute', left: panel.left - padLeft, top: panel.top - padTop }}
        />
    );
};

const App: React.FC = () => {
    // the window can come up smaller than the figure, so fit the figure to it
    const scaleX = window.innerWidth / pageWidth;
    const scaleY = window.innerHeight / pageHeight;
    return (
        <div style={{ position: 'fixed', inset: 0, overflow: 'hidden', background: '#fff' }}>
            <div
                style={{
                    position: 'absolute',
                    left: 0,
                    top: 0,
                    width: pageWidth,
                    height: pageHeight,
                    transformOrigin: '0 0',
                    transform: `scale(${scaleX}, ${scaleY})`,
                }}
            >
                {panels.map((panel) => (
                    <React.Fragment key={panel.tag}>
                        <PanelChart panel={panel} />
                        <div
                            style={{
                                position: 'absolute',
                                left: panel.capX,
                                top: panel.capY,
                                transform: 'translate(-50%, -50%)',
                                fontFamily: 'Liberation Serif',
                                fontSize: 82,
                                color: '#000',
                            }}
                        >
                            (<b>{panel.tag}</b>)
                        </div>
                    </React.Fragment>
                ))}
            </div>
        </div>
    );
};

export default App;
